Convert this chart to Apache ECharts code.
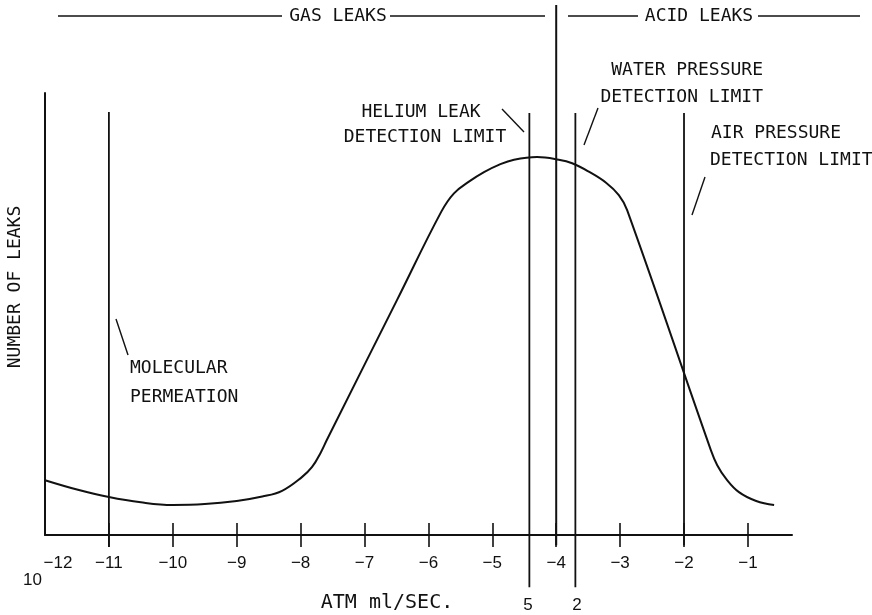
<!DOCTYPE html>
<html><head><meta charset="utf-8">
<script src="https://cdn.jsdelivr.net/npm/echarts@6/dist/echarts.min.js"></script>
<style>html,body{margin:0;padding:0;background:#fff}#c{width:872px;height:615px}</style>
</head><body><div id="c"></div>
<script>
// ---- data ----
const tickValues = [-11, -10, -9, -8, -7, -6, -5, -4, -3, -2, -1];
const labelValues = [-12, -11, -10, -9, -8, -7, -6, -5, -4, -3, -2, -1];
const curveX = [-12.0, -11.5, -11.0, -10.5, -10.0, -9.5, -9.0, -8.6, -8.29, -7.98, -7.82, -7.68, -7.59, -6.49, -5.80, -5.60, -5.36, -5.13, -4.89, -4.66, -4.30, -3.96, -3.75, -3.49, -3.22, -3.02, -2.89, -1.58, -1.48, -1.34, -1.14, -0.87, -0.59];
const curveY = [12.4, 10.3, 8.6, 7.4, 6.8, 7.0, 7.7, 8.7, 10.0, 13.1, 15.4, 18.8, 21.5, 53.2, 73.1, 77.3, 80.0, 82.1, 83.8, 84.9, 85.5, 84.9, 84.1, 82.2, 79.7, 76.9, 73.5, 19.2, 15.8, 12.7, 9.7, 7.7, 6.8];
const limitNames = ['Molecular permeation', 'Helium leak detection limit', 'Gas / acid leaks', 'Water pressure detection limit', 'Air pressure detection limit'];
const limitX = [-11, -4.42, -4, -3.70, -2];

// ---- layout / style ----
const lineSpan = {
  'Molecular permeation': [95.7, -2.7],
  'Helium leak detection limit': [95.5, -11.8],
  'Gas / acid leaks': [119.9, -2.3],
  'Water pressure detection limit': [95.5, -11.8],
  'Air pressure detection limit': [95.5, -2.3]
};
const INK = '#111';
const MONO = '"DejaVu Sans Mono", monospace';
const SANS = '"Liberation Sans", Arial, sans-serif';

const chart = echarts.init(document.getElementById('c'), null, {renderer: 'canvas'});

const limitSeries = limitNames.map((name, i) => ({
  name: name, type: 'line', xAxisIndex: 0, yAxisIndex: 0,
  data: [[limitX[i], lineSpan[name][0]], [limitX[i], lineSpan[name][1]]],
  showSymbol: false, symbol: 'none', clip: false, silent: true,
  lineStyle: {color: INK, width: name === 'Gas / acid leaks' ? 2 : 1.8},
  animation: false, z: 3
}));

function txt(text, x, y, align, size, fam, extra) {
  return Object.assign({
    type: 'text', x: x, y: y, silent: true,
    style: {text: text, fill: INK, fontSize: size || 18, fontFamily: fam || MONO,
      align: align || 'center', verticalAlign: 'middle',
      textAlign: align || 'center', textVerticalAlign: 'middle'}
  }, extra || {});
}
function seg(x1, y1, x2, y2, w) {
  return {type: 'line', silent: true, shape: {x1: x1, y1: y1, x2: x2, y2: y2},
    style: {stroke: INK, lineWidth: w || 1.4}};
}
const fmtTick = v => (v < 0 ? '\u2212' : '') + Math.abs(v);

const option = {
  animation: false,
  backgroundColor: '#fff',
  grid: {left: 45, right: 80, top: 93, bottom: 80, containLabel: false, outerBoundsMode: 'none'},
  xAxis: [
    {
      type: 'value', min: -12, max: -0.31, position: 'bottom',
      axisLine: {show: true, onZero: false, lineStyle: {color: INK, width: 2}},
      axisTick: {show: true, inside: false, length: 12, customValues: tickValues, lineStyle: {color: INK, width: 1.6}},
      axisLabel: {
        customValues: labelValues, margin: 20, color: INK, fontFamily: SANS, fontSize: 17,
        formatter: v => v === -12 ? '{s|' + fmtTick(v) + '}' : fmtTick(v),
        rich: {s: {color: INK, fontFamily: SANS, fontSize: 17, padding: [0, 0, 0, 26]}}
      },
      splitLine: {show: false}
    },
    {
      type: 'value', min: -12, max: -0.31, position: 'bottom',
      axisLine: {show: false, onZero: false},
      axisTick: {show: true, inside: true, length: 12, customValues: tickValues, lineStyle: {color: INK, width: 1.6}},
      axisLabel: {
        customValues: [-12], margin: 37, color: INK, fontFamily: SANS, fontSize: 17,
        formatter: () => '{t|10}',
        rich: {t: {color: INK, fontFamily: SANS, fontSize: 17, padding: [0, 25, 0, 0]}}
      },
      splitLine: {show: false}
    }
  ],
  yAxis: {
    type: 'value', min: 0, max: 100,
    axisLine: {show: true, onZero: false, lineStyle: {color: INK, width: 2}},
    axisTick: {show: false}, axisLabel: {show: false}, splitLine: {show: false}
  },
  series: [
    {
      name: 'Number of leaks', type: 'line', xAxisIndex: 0,
      data: curveX.map((x, i) => [x, curveY[i]]),
      showSymbol: false, symbol: 'none', smooth: 0.4, clip: false,
      lineStyle: {color: INK, width: 2}, z: 4
    }
  ].concat(limitSeries),
  graphic: [
    // header
    seg(58, 16, 282, 16), seg(390, 16, 545, 16), seg(568, 16, 638, 16), seg(758, 16, 860, 16),
    txt('GAS LEAKS', 338, 16), txt('ACID LEAKS', 699, 16),
    // annotations
    txt('HELIUM LEAK', 421, 112), txt('DETECTION LIMIT', 425, 137),
    seg(502, 109, 524, 132),
    txt('WATER PRESSURE', 763, 70, 'right'), txt('DETECTION LIMIT', 763, 97, 'right'),
    seg(598, 108, 584, 145),
    txt('AIR PRESSURE', 711, 133, 'left'), txt('DETECTION LIMIT', 710, 160, 'left'),
    seg(705, 177, 692, 215),
    txt('MOLECULAR', 130, 368, 'left'), txt('PERMEATION', 130, 397, 'left'),
    seg(116, 319, 128, 355),
    // axis names
    txt('NUMBER OF LEAKS', 15, 287, 'center', 18, MONO, {rotation: Math.PI / 2}),
    txt('ATM ml/SEC.', 387, 603, 'center', 20, MONO),
    txt('5', 528, 605, 'center', 17, SANS), txt('2', 577, 605, 'center', 17, SANS)
  ]
};
chart.setOption(option);
</script></body></html>
